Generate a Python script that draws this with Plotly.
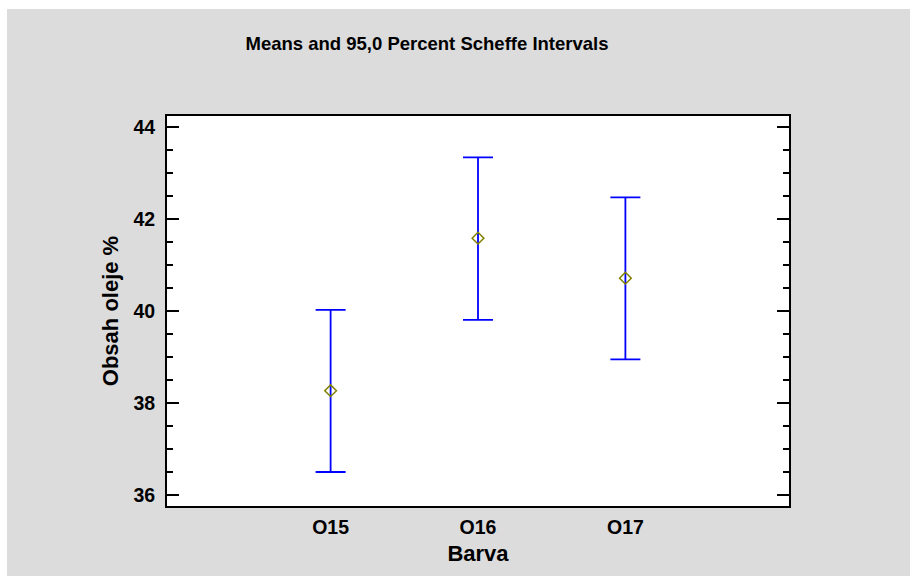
import plotly.graph_objects as go

categories = ["O15", "O16", "O17"]
means = [38.27, 41.59, 40.72]
upper = [40.03, 43.35, 42.48]
lower = [36.50, 39.81, 38.95]

err_plus = [u - m for u, m in zip(upper, means)]
err_minus = [m - l for m, l in zip(means, lower)]

W, H = 910, 576
L, R, T, B = 167, 121, 116, 70
pw = W - L - R
ph = H - T - B

fig = go.Figure()
fig.add_trace(go.Scatter(
    x=[0, 1, 2], y=means, mode="markers",
    marker=dict(symbol="diamond-open", size=9, color="#808000", line=dict(width=1.5)),
    error_y=dict(type="data", symmetric=False, array=err_plus, arrayminus=err_minus,
                 color="#0000FF", thickness=1.8, width=15),
    showlegend=False,
))

gray = "#DCDCDC"
# white strips at the top and left edges of the page
fig.add_shape(type="rect", xref="paper", yref="paper",
              x0=-L / pw, x1=(W - L) / pw, y0=(ph + T - 9) / ph, y1=(ph + T) / ph,
              fillcolor="white", line=dict(width=0), layer="below")
fig.add_shape(type="rect", xref="paper", yref="paper",
              x0=-L / pw, x1=(-L + 7) / pw, y0=-B / ph, y1=(ph + T) / ph,
              fillcolor="white", line=dict(width=0), layer="below")

font = "Liberation Sans, Arial, sans-serif"
fig.update_layout(
    width=W, height=H,
    margin=dict(l=L, r=R, t=T, b=B),
    paper_bgcolor=gray, plot_bgcolor="white",
    font=dict(family=font, size=18, color="black"),
    title=dict(text="<b>Means and 95,0 Percent Scheffe Intervals</b>",
               x=427 / W, xanchor="center", xref="container",
               y=1 - 44 / H, yanchor="middle", yref="container",
               font=dict(size=18.5)),
)
fig.update_xaxes(
    range=[-1.11, 3.11], tickvals=[0, 1, 2], ticktext=["<b>%s</b>" % c for c in categories],
    showline=True, linecolor="black", linewidth=2, mirror=True,
    ticks="", showgrid=False, zeroline=False, ticklabelstandoff=3,
    tickfont=dict(size=19.5),
    title=dict(text="<b>Barva</b>", standoff=8),
)
fig.update_yaxes(
    range=[35.76, 44.25], tickvals=[36, 38, 40, 42, 44],
    ticktext=["<b>%d</b>" % v for v in [36, 38, 40, 42, 44]],
    showline=True, linecolor="black", linewidth=2, mirror="ticks",
    ticks="inside", ticklen=12, tickwidth=2, tickcolor="black",
    minor=dict(dtick=0.5, ticks="inside", ticklen=6, tickwidth=2, tickcolor="black"),
    showgrid=False, zeroline=False, ticklabelstandoff=6,
    tickfont=dict(size=19.5),
    title=dict(text="<b>Obsah oleje %</b>", standoff=9),
)

fig.write_html("out.html")
